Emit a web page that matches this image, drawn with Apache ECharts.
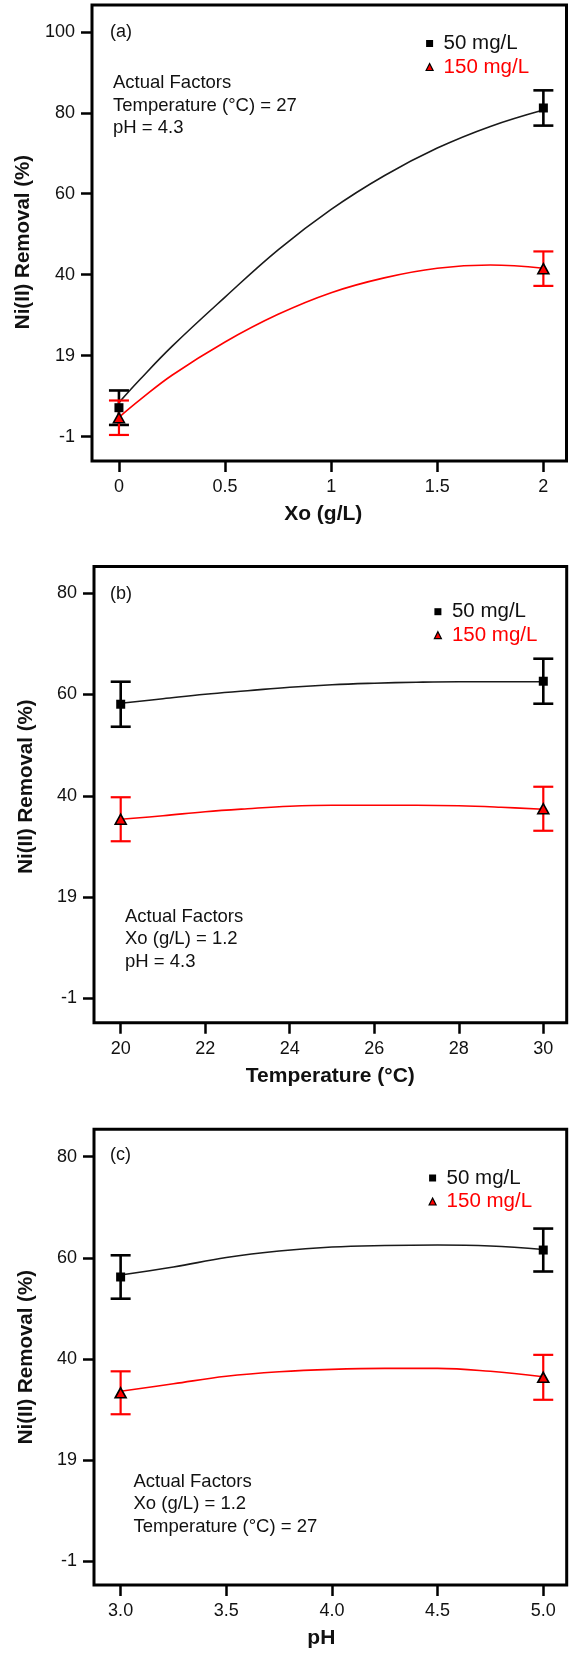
<!DOCTYPE html>
<html>
<head>
<meta charset="utf-8">
<script src="https://cdn.jsdelivr.net/npm/echarts@6/dist/echarts.min.js"></script>
<style>
html,body{margin:0;padding:0;background:#fff;}
#chart{width:575px;height:1655px;}
</style>
</head>
<body>
<div id="chart"></div>
<script>
// ---------- DATA ----------
const seriesNames = ['50 mg/L', '150 mg/L'];

// Panel (a): Xo (g/L)
const aPointsX = [0, 2];
const aMean50 = [6.2, 81.0];
const aErr50 = [4.3, 4.4];
const aMean150 = [3.7, 40.9];
const aErr150 = [4.3, 4.3];
const aCurveX = [0, 0.1, 0.25, 0.5, 0.75, 1.0, 1.25, 1.5, 1.75, 2.0];
const aCurve50 = [7.5, 13.3, 21.5, 33.8, 45.6, 55.7, 64.1, 71.0, 76.4, 80.5];
const aCurve150 = [3.8, 8.2, 14.3, 22.6, 29.5, 34.9, 38.6, 41.0, 41.8, 41.0];
const aXTicks = [0, 0.5, 1, 1.5, 2];
const aXTickLabels = ['0', '0.5', '1', '1.5', '2'];
const aYTicks = [-1, 19.2, 39.4, 59.6, 79.8, 100];
const aYTickLabels = ['-1', '19', '40', '60', '80', '100'];

// Panel (b): Temperature (°C)
const bPointsX = [20, 30];
const bMean50 = [57.8, 62.4];
const bErr50 = [4.5, 4.5];
const bMean150 = [34.8, 36.9];
const bErr150 = [4.4, 4.4];
const bCurveX = [20, 21, 22, 23, 24, 25, 26, 27, 28, 29, 30];
const bCurve50 = [58.0, 58.9, 59.8, 60.5, 61.2, 61.7, 62.0, 62.2, 62.3, 62.3, 62.3];
const bCurve150 = [34.8, 35.5, 36.3, 36.9, 37.4, 37.6, 37.6, 37.6, 37.5, 37.2, 36.8];
const bXTicks = [20, 22, 24, 26, 28, 30];
const bXTickLabels = ['20', '22', '24', '26', '28', '30'];
const bYTicks = [-1, 19.25, 39.5, 59.75, 80];
const bYTickLabels = ['-1', '19', '40', '60', '80'];

// Panel (c): pH
const cPointsX = [3, 5];
const cMean50 = [55.9, 61.3];
const cErr50 = [4.35, 4.3];
const cMean150 = [32.7, 35.8];
const cErr150 = [4.3, 4.5];
const cCurveX = [3.0, 3.25, 3.5, 3.75, 4.0, 4.25, 4.5, 4.75, 5.0];
const cCurve50 = [56.3, 57.9, 59.8, 61.1, 61.9, 62.2, 62.3, 62.1, 61.4];
const cCurve150 = [33.0, 34.5, 36.0, 36.9, 37.4, 37.6, 37.6, 37.0, 35.9];
const cXTicks = [3, 3.5, 4, 4.5, 5];
const cXTickLabels = ['3.0', '3.5', '4.0', '4.5', '5.0'];
const cYTicks = [-1, 19.25, 39.5, 59.75, 80];
const cYTickLabels = ['-1', '19', '40', '60', '80'];

const panelLabels = ['(a)', '(b)', '(c)'];
const xTitles = ['Xo (g/L)', 'Temperature (°C)', 'pH'];
const yTitle = 'Ni(II) Removal (%)';
const factorTexts = [
  ['Actual Factors', 'Temperature (°C) = 27', 'pH = 4.3'],
  ['Actual Factors', 'Xo (g/L) = 1.2', 'pH = 4.3'],
  ['Actual Factors', 'Xo (g/L) = 1.2', 'Temperature (°C) = 27']
];

// ---------- LAYOUT / STYLE ----------
const FONT = '"Liberation Sans", Arial, sans-serif';
const BLACK = '#111';
const RED = '#ff0000';

const panels = [
  { px: aPointsX, m50: aMean50, e50: aErr50, m150: aMean150, e150: aErr150,
    cx: aCurveX, c50: aCurve50, c150: aCurve150,
    xt: aXTicks, xl: aXTickLabels, yt: aYTicks, yl: aYTickLabels,
    grid: { left: 92, top: 5, width: 474.5, height: 456 },
    xr: [-0.127, 2.109], yr: [-7.1, 106.7],
    xNamePad: [0, 12, 0, 0], yNamePad: [0, 18, 0, 0],
    legend: { left: 425.5, top: 33 }, label: [110, 34], factors: [113, 83] },
  { px: bPointsX, m50: bMean50, e50: bErr50, m150: bMean150, e150: bErr150,
    cx: bCurveX, c50: bCurve50, c150: bCurve150,
    xt: bXTicks, xl: bXTickLabels, yt: bYTicks, yl: bYTickLabels,
    grid: { left: 94, top: 566.5, width: 472.7, height: 456.2 },
    xr: [19.368, 30.554], yr: [-5.88, 85.34],
    xNamePad: [0, 0, 0, 0], yNamePad: [0, 0, 0, 16],
    legend: { left: 433.8, top: 601.2 }, label: [110, 596], factors: [125, 916.5] },
  { px: cPointsX, m50: cMean50, e50: cErr50, m150: cMean150, e150: cErr150,
    cx: cCurveX, c50: cCurve50, c150: cCurve150,
    xt: cXTicks, xl: cXTickLabels, yt: cYTicks, yl: cYTickLabels,
    grid: { left: 94, top: 1129.3, width: 472.7, height: 455.7 },
    xr: [2.874, 5.111], yr: [-5.81, 85.49],
    xNamePad: [0, 18, 0, 0], yNamePad: [0, 0, 0, 0],
    legend: { left: 428.5, top: 1167.5 }, label: [110, 1157], factors: [133.5, 1481.5] }
];

function errRender(color, lw) {
  return function (params, api) {
    const x = api.value(0), m = api.value(1), e = api.value(2);
    const hi = api.coord([x, m + e]);
    const lo = api.coord([x, m - e]);
    const hw = 10;
    const st = { stroke: color, lineWidth: lw };
    return {
      type: 'group',
      children: [
        { type: 'line', shape: { x1: hi[0], y1: hi[1], x2: lo[0], y2: lo[1] }, style: st },
        { type: 'line', shape: { x1: hi[0] - hw, y1: hi[1], x2: hi[0] + hw, y2: hi[1] }, style: st },
        { type: 'line', shape: { x1: lo[0] - hw, y1: lo[1], x2: lo[0] + hw, y2: lo[1] }, style: st }
      ]
    };
  };
}

const grids = [], xAxes = [], yAxes = [], series = [], legends = [], graphics = [];

panels.forEach((p, i) => {
  grids.push(Object.assign({ show: true, borderColor: '#000', borderWidth: 3,
    backgroundColor: 'transparent', containLabel: false }, p.grid));

  xAxes.push({
    type: 'value', gridIndex: i, min: p.xr[0], max: p.xr[1],
    splitLine: { show: false }, axisLine: { show: false, onZero: false },
    axisTick: { show: true, inside: false, length: 11, customValues: p.xt,
      lineStyle: { color: '#000', width: 2.5 } },
    axisLabel: { show: true, margin: 17, customValues: p.xt, fontSize: 18,
      fontFamily: FONT, color: BLACK,
      formatter: (v) => { const k = p.xt.indexOf(v); return k >= 0 ? p.xl[k] : ''; } },
    name: xTitles[i], nameLocation: 'middle', nameGap: 43,
    nameTextStyle: { fontSize: 21, fontWeight: 'bold', fontFamily: FONT, color: BLACK,
      padding: p.xNamePad }
  });

  yAxes.push({
    type: 'value', gridIndex: i, min: p.yr[0], max: p.yr[1],
    splitLine: { show: false }, axisLine: { show: false, onZero: false },
    axisTick: { show: true, inside: false, length: 11, customValues: p.yt,
      lineStyle: { color: '#000', width: 2.5 } },
    axisLabel: { show: true, margin: 17, customValues: p.yt, fontSize: 18,
      fontFamily: FONT, color: BLACK,
      formatter: (v) => { const k = p.yt.indexOf(v); return k >= 0 ? p.yl[k] : ''; } },
    name: yTitle, nameLocation: 'middle', nameGap: 57, nameRotate: 90,
    nameTextStyle: { fontSize: 20.5, fontWeight: 'bold', fontFamily: FONT, color: BLACK,
      padding: p.yNamePad }
  });

  const curve50 = p.cx.map((x, k) => [x, p.c50[k]]);
  const curve150 = p.cx.map((x, k) => [x, p.c150[k]]);
  const pts50 = p.px.map((x, k) => [x, p.m50[k], p.e50[k]]);
  const pts150 = p.px.map((x, k) => [x, p.m150[k], p.e150[k]]);

  series.push(
    { type: 'line', name: seriesNames[0], xAxisIndex: i, yAxisIndex: i, data: curve50,
      smooth: 0.4, showSymbol: false, silent: true, z: 2,
      lineStyle: { color: '#1a1a1a', width: 1.6 }, itemStyle: { color: '#000' } },
    { type: 'line', name: seriesNames[1], xAxisIndex: i, yAxisIndex: i, data: curve150,
      smooth: 0.4, showSymbol: false, silent: true, z: 2,
      lineStyle: { color: RED, width: 1.6 }, itemStyle: { color: RED } },
    { type: 'custom', name: seriesNames[0], xAxisIndex: i, yAxisIndex: i, data: pts50,
      renderItem: errRender('#000', 2.6), encode: { x: 0, y: 1 }, z: 3, silent: true },
    { type: 'custom', name: seriesNames[1], xAxisIndex: i, yAxisIndex: i, data: pts150,
      renderItem: errRender(RED, 2.2), encode: { x: 0, y: 1 }, z: 3, silent: true },
    { type: 'scatter', name: seriesNames[0], xAxisIndex: i, yAxisIndex: i,
      data: pts50.map(d => [d[0], d[1]]), symbol: 'rect', symbolSize: 9, z: 5,
      itemStyle: { color: '#000', opacity: 1 } },
    { type: 'scatter', name: seriesNames[1], xAxisIndex: i, yAxisIndex: i,
      data: pts150.map(d => [d[0], d[1]]), symbol: 'triangle', symbolSize: [11, 10], z: 5,
      itemStyle: { color: RED, borderColor: '#000', borderWidth: 1.6, opacity: 1 } }
  );

  legends.push({
    orient: 'vertical', left: p.legend.left, top: p.legend.top,
    itemWidth: 7, itemHeight: 7, itemGap: 2.5, padding: 0,
    selectedMode: false,
    textStyle: { fontSize: 20.5, fontFamily: FONT, lineHeight: 19, padding: [0, 0, 0, 5.5] },
    data: [
      { name: seriesNames[0], icon: 'rect', itemStyle: { color: '#000', borderWidth: 0 },
        textStyle: { color: BLACK } },
      { name: seriesNames[1], icon: 'triangle',
        itemStyle: { color: RED, borderColor: '#000', borderWidth: 1.2 },
        textStyle: { color: RED } }
    ]
  });

  graphics.push({
    type: 'text', left: p.label[0], top: p.label[1] - 11,
    style: { text: panelLabels[i], font: '18px ' + FONT, fill: BLACK }
  });
  graphics.push({
    type: 'text', left: p.factors[0], top: p.factors[1] - 11.25,
    style: { text: factorTexts[i].join('\n'), font: '18.5px ' + FONT, fill: BLACK,
      lineHeight: 22.5 }
  });
});

const chart = echarts.init(document.getElementById('chart'), null, { renderer: 'canvas' });
chart.setOption({
  animation: false,
  backgroundColor: '#fff',
  grid: grids,
  xAxis: xAxes,
  yAxis: yAxes,
  legend: legends,
  graphic: graphics,
  series: series
});
</script>
</body>
</html>
